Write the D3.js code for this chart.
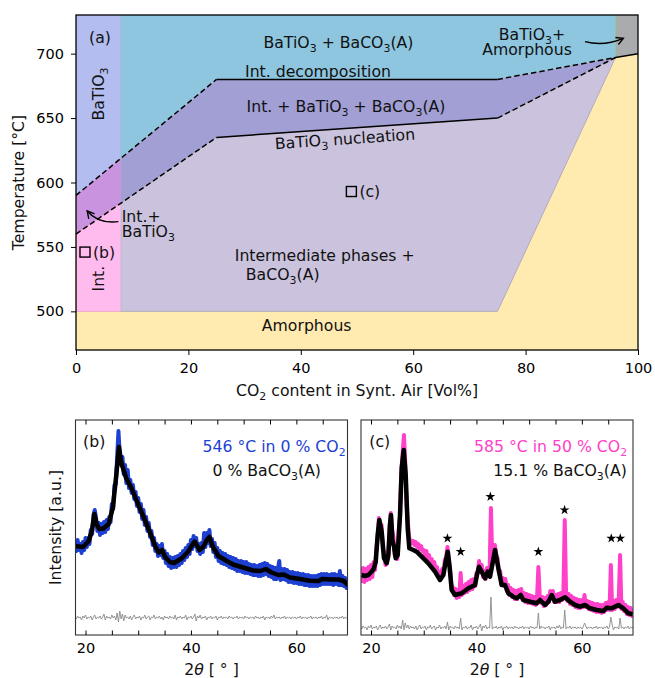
<!DOCTYPE html>
<html lang="en">
<head>
<meta charset="UTF-8">
<title>BaTiO3 phase diagram and XRD scans</title>
<script src="https://cdnjs.cloudflare.com/ajax/libs/d3/7.8.5/d3.min.js"></script>
<style>
    body { margin: 0; background: #fff; }
    svg { font-family: "DejaVu Sans", sans-serif; }
</style>
</head>
<body>
<svg id="chart" width="655" height="678"></svg>
<script>
// ---------- phase diagram (CO2 vol% vs temperature) ----------
const co2Ticks = [0, 20, 40, 60, 80, 100];
const tempTicks = [500, 550, 600, 650, 700];
const upperLine = [[0, 590], [25, 680], [75, 680], [96, 697]];
const lowerLine = [[0, 560], [25, 635], [75, 650], [96, 697]];
const solidSegments = [[[25, 680], [75, 680]], [[25, 635], [75, 650]], [[96, 697], [100, 700]]];
const dashedSegments = [[[0, 590], [25, 680]], [[75, 680], [96, 697]], [[0, 560], [25, 635]], [[75, 650], [96, 697]]];
const amorphousEdge = [[75, 500], [96, 697]];
const columnEdge = 8;
const grayBox = [[96, 730], [100, 730], [100, 700], [96, 697]];
const samples = [{ id: "(b)", co2: 1.6, temp: 546 }, { id: "(c)", co2: 49, temp: 593 }];

// ---------- XRD scans ----------
const scanStart = 18, scanStep = 0.25;
const scanTicks = [20, 25, 30, 35, 40, 45, 50, 55, 60, 65];
const scanLabels = [20, 40, 60];

const obsB = [
    93,84,95,85,91,82,93,85, 97,88,97,91,105,101,120,125, 117,104,112,100,111,102,113,103,
    115,106,118,113,131,126,150,151, 178,204,180,170,178,161,170,152, 165,147,155,142,150,136,143,129,
    137,123,131,116,125,110,118,104, 112,98,104,90,97,84,91,79, 89,80,91,77,84,72,81,69,
    78,67,77,68,78,68,79,70, 81,72,84,75,87,78,90,81, 95,86,99,89,97,84,91,81,
    92,83,102,88,102,92,105,89, 96,83,92,78,87,74,84,72, 82,71,81,70,79,68,78,67,
    77,66,76,64,74,64,74,63, 73,62,73,62,71,61,70,60, 70,60,69,59,70,59,71,60,
    72,61,71,59,69,58,68,56, 67,56,66,74,55,66,56,66, 55,65,53,63,53,63,52,62,
    52,62,51,61,51,61,50,60, 50,60,49,59,49,59,49,59, 49,60,50,61,51,61,51,61,
    51,60,51,61,50,61,51,60, 50,64,50,59,49,57,47,55
];
const resB = [
    18,16,19,17,18,15,19,17, 20,16,18,17,19,15,18,20, 16,18,17,19,16,18,21,15,
    19,17,18,16,20,17,19,15, 22,13,24,16,21,14,20,17, 18,16,19,15,18,20,16,18,
    17,19,15,18,17,20,16,18, 19,15,18,17,20,16,18,17, 19,16,18,15,19,17,18,16,
    19,17,18,16,20,15,18,17, 19,16,18,17,20,15,18,17, 19,16,18,21,14,19,17,20,
    16,18,17,19,15,18,17,19, 16,18,17,19,15,18,17,19, 16,18,17,18,16,19,17,18,
    16,18,17,19,16,18,17,18, 16,19,17,18,16,18,17,18, 16,19,17,18,16,18,17,19,
    15,18,17,18,16,19,17,20, 16,18,17,18,16,18,17,19, 16,18,17,18,16,18,17,18,
    16,18,17,19,16,18,17,18, 16,18,17,19,16,18,17,18, 16,18,17,19,16,18,17,20,
    15,18,17,18,16,18,17,18, 16,18,17,19,16,18,17,18
];
const fitB = [
    [18.0, 89], [19.5, 88], [20.6, 94], [21.2, 104], [21.7, 121], [22.1, 111], [22.6, 106], [23.4, 106.5],
    [24.4, 111], [25.2, 128], [25.8, 158], [26.35, 188], [26.8, 172], [27.7, 157], [28.7, 147], [29.8, 133],
    [31.1, 117], [32.2, 103], [33.2, 89], [33.9, 82.5], [34.5, 85], [35.1, 78], [36.0, 73], [36.8, 72],
    [38.2, 76.5], [39.4, 83], [40.0, 88], [40.7, 93.5], [41.1, 90], [41.6, 85], [42.3, 88], [43.0, 95],
    [43.5, 98], [44.1, 89], [45.2, 79], [46.8, 74], [48.0, 70.5], [49.9, 67.5], [51.8, 64.5], [53.2, 64],
    [54.2, 66], [55.3, 62.5], [56.6, 60], [57.6, 60.5], [58.8, 57.5], [60.7, 56], [62.6, 54.3], [64.2, 54],
    [64.9, 56], [66.5, 55.5], [68.0, 55.5], [69.0, 54], [69.8, 50]
];

const obsC = [
    66,54,67,53,66,55,68,56, 70,58,73,65,86,96,117,108, 110,86,83,70,79,76,107,122,
    106,98,80,84,76,104,118,162, 182,200,172,130,112,96,95,92, 94,90,93,88,91,86,89,84,
    85,79,84,77,80,74,76,70, 73,66,68,61,63,58,66,62, 75,78,88,78,66,50,48,40,
    46,37,45,38,62,40,49,42, 51,43,53,45,55,46,56,49, 62,62,74,64,70,58,64,56,
    67,60,66,127,74,76,90,80, 77,63,64,50,57,49,56,44, 50,40,47,38,45,36,44,36,
    45,38,46,35,42,33,41,32, 40,32,39,31,38,30,38,68, 40,32,38,29,37,30,39,33,
    44,38,44,33,40,33,41,33, 42,35,43,115,42,34,41,31, 39,30,37,28,36,27,35,27,
    35,28,40,28,34,26,33,25, 32,24,31,23,31,23,30,22, 30,23,32,25,33,25,70,25,
    34,26,35,28,36,80,26,33, 24,30,21,28,20,27,19,26
];
const resC = [
    8,6,9,7,8,5,9,7, 10,6,8,7,9,5,8,10, 6,8,7,9,6,8,11,5,
    9,7,8,6,10,7,9,6, 15,5,12,7,10,6,9,7, 8,6,9,5,8,10,6,8,
    7,9,5,8,7,10,6,8, 9,5,8,7,10,6,8,7, 9,6,13,5,9,7,8,6,
    9,7,8,6,17,5,8,7, 9,6,8,7,10,5,8,7, 9,6,8,11,4,9,7,10,
    6,8,7,38,6,8,7,9, 6,8,7,9,5,8,7,9, 6,8,7,8,6,9,7,8,
    6,8,7,9,6,8,7,8, 6,9,7,8,6,8,7,22, 6,9,7,8,6,8,7,9,
    5,8,7,8,6,9,7,10, 6,8,7,25,6,8,7,9, 6,8,7,8,6,8,7,8,
    6,8,12,9,6,8,7,8, 6,8,7,9,6,8,7,8, 6,8,7,9,6,8,18,10,
    5,8,7,8,6,17,7,8, 6,8,7,9,6,8,7,8
];
const fitC = [
    [18.2, 60], [18.8, 59], [19.5, 60], [20.1, 63.3], [20.5, 66], [20.9, 73.3], [21.26, 100], [21.58, 115],
    [22.02, 103.3], [22.46, 76.7], [22.97, 71.7], [23.29, 80], [23.6, 110], [23.79, 120], [24.05, 95], [24.36, 88.3],
    [24.68, 76.7], [25.06, 80], [25.5, 120], [25.82, 166.7], [26.2, 185], [26.58, 160], [26.96, 106.7], [27.27, 86.7],
    [28.03, 85], [28.66, 83.3], [29.61, 78.3], [30.88, 71.7], [32.14, 63.3], [33.09, 55], [33.72, 60], [34.17, 73.3],
    [34.55, 83.3], [34.93, 66.7], [35.3, 45], [35.94, 40], [37.2, 41.7], [38.47, 46.7], [39.73, 50], [40.1, 60],
    [40.49, 68.3], [41.0, 63.3], [41.63, 56.7], [42.14, 63.3], [42.58, 58.3], [43.0, 70], [43.53, 85], [44.16, 66.7],
    [44.79, 50], [45.42, 50], [46.06, 41.7], [47.0, 38.3], [47.64, 36.7], [48.4, 40], [48.9, 35], [50.17, 33.3],
    [51.43, 31.7], [52.07, 35], [53.01, 30], [53.65, 33.3], [54.28, 40], [54.91, 33.3], [55.86, 35], [56.81, 37.7],
    [57.76, 33.3], [58.71, 30], [59.66, 28.3], [60.6, 30], [61.55, 26.7], [62.82, 25], [64.08, 24], [64.72, 27.3],
    [65.67, 26.7], [66.93, 30], [67.88, 26.7], [68.83, 21.7], [69.65, 20.7]
];
const starPeaks = [[34.5, 96.7], [37.0, 83.3], [42.64, 138.3], [51.75, 83.3], [56.72, 125], [65.58, 96.7], [67.28, 96.7]];

// ---------- styling ----------
const fsTick = 14.5, fsText = 15.7;
const col = {
    amorphous: "#ffeab0", batio3: "#b3bdef", topMain: "#8ec5df", intBat: "#c993e0",
    midMain: "#a19fd4", intPink: "#ffbbee", lowMain: "#cbc3dd", gray: "#a9abae",
    blue: "#1d3fd2", pink: "#ff40c8"
};

const svg = d3.select("#chart");
const defs = svg.append("defs");

// subscripts written as _3 in label strings
function rich(sel, str, fs) {
    const parts = str.split(/_(\d)/);
    let shifted = false;
    parts.forEach((p, i) => {
        if (p === "") return;
        const t = sel.append("tspan").text(p);
        if (i % 2 === 1) { t.attr("font-size", fs * 0.7).attr("dy", fs * 0.26); shifted = true; }
        else if (shifted) { t.attr("dy", -fs * 0.26); shifted = false; }
    });
    return sel;
}
function label(g, px, py, str, opts = {}) {
    const fs = opts.fs || fsText;
    const t = g.append("text")
        .attr("x", px).attr("y", py).attr("dy", "0.36em")
        .attr("font-size", fs)
        .attr("text-anchor", opts.anchor || "middle")
        .attr("fill", opts.color || "#111");
    if (opts.rotate) t.attr("transform", `rotate(${opts.rotate},${px},${py})`);
    return rich(t, str, fs);
}

// ===== top panel =====
const x = d3.scaleLinear().domain([0, 100]).range([76, 638]);
const y = d3.scaleLinear().domain([470, 730]).range([350, 15]);
const pline = d3.line().x(d => x(d[0])).y(d => y(d[1]));
const poly = pts => pline(pts) + "Z";

defs.append("clipPath").attr("id", "colLeft").append("rect")
    .attr("x", x(0)).attr("y", y(730)).attr("width", x(columnEdge) - x(0)).attr("height", y(470) - y(730));
defs.append("clipPath").attr("id", "colMain").append("rect")
    .attr("x", x(columnEdge)).attr("y", y(730)).attr("width", x(100) - x(columnEdge)).attr("height", y(470) - y(730));

const topG = svg.append("g");
topG.append("rect").attr("x", x(0)).attr("y", y(730))
    .attr("width", x(100) - x(0)).attr("height", y(470) - y(730)).attr("fill", col.amorphous);

const upperBand = [[0, 730]].concat(upperLine, [[96, 730]]);
const midBand = upperLine.concat(lowerLine.slice().reverse());
const lowBand = lowerLine.concat([amorphousEdge[0], [0, 500]]);

const mainG = topG.append("g").attr("clip-path", "url(#colMain)");
mainG.append("path").attr("d", poly(upperBand)).attr("fill", col.topMain);
mainG.append("path").attr("d", poly(midBand)).attr("fill", col.midMain);
mainG.append("path").attr("d", poly(lowBand)).attr("fill", col.lowMain)
    .attr("stroke", "#b3aabd").attr("stroke-width", 1);
const leftG = topG.append("g").attr("clip-path", "url(#colLeft)");
leftG.append("path").attr("d", poly(upperBand)).attr("fill", col.batio3);
leftG.append("path").attr("d", poly(midBand)).attr("fill", col.intBat);
leftG.append("path").attr("d", poly(lowBand)).attr("fill", col.intPink)
    .attr("stroke", "#f0a4c8").attr("stroke-width", 1);
topG.append("line").attr("x1", x(columnEdge)).attr("x2", x(columnEdge))
    .attr("y1", y(730)).attr("y2", y(500)).attr("stroke", "#9fb0cc").attr("stroke-width", 0.8).attr("opacity", 0.6);

topG.append("path").attr("d", poly(grayBox)).attr("fill", col.gray);
topG.append("line").attr("x1", x(96)).attr("x2", x(96)).attr("y1", y(730)).attr("y2", y(697))
    .attr("stroke", "#8fcaa0").attr("stroke-width", 1);

solidSegments.forEach(s => topG.append("path").attr("d", pline(s))
    .attr("fill", "none").attr("stroke", "#000").attr("stroke-width", 1.5));
dashedSegments.forEach(s => topG.append("path").attr("d", pline(s))
    .attr("fill", "none").attr("stroke", "#000").attr("stroke-width", 1.5).attr("stroke-dasharray", "5.5,3"));

// sample markers
samples.forEach(s => {
    topG.append("rect").attr("x", x(s.co2) - 5).attr("y", y(s.temp) - 5)
        .attr("width", 10).attr("height", 10).attr("fill", "none").attr("stroke", "#000").attr("stroke-width", 1.4);
    label(topG, x(s.co2) + 8, y(s.temp), s.id, { anchor: "start" });
});

// phase labels
label(topG, x(4.27), y(712.9), "(a)");
label(topG, x(3.97), y(668.7), "BaTiO_3", { rotate: -90 });
label(topG, x(46.7), y(708.8), "BaTiO_3 + BaCO_3(A)");
label(topG, x(43.06), y(686.3), "Int. decomposition");
label(topG, x(48.04), y(659.1), "Int. + BaTiO_3 + BaCO_3(A)");
label(topG, x(47.86), y(634), "BaTiO_3 nucleation", { rotate: -4 });
label(topG, x(3.97), y(525.4), "Int.", { rotate: -90 });
label(topG, x(8.13), y(573.7), "Int.+", { anchor: "start" });
label(topG, x(8.13), y(562.1), "BaTiO_3", { anchor: "start" });
label(topG, x(44.25), y(543.3), "Intermediate phases +");
label(topG, x(36.78), y(528.5), "BaCO_3(A)");
label(topG, x(41.05), y(489.1), "Amorphous");
label(topG, x(81.14), y(715.3), "BaTiO_3+");
label(topG, x(80.25), y(703.4), "Amorphous");

// curved arrows
defs.append("marker").attr("id", "head").attr("viewBox", "-9 -6 11 12")
    .attr("refX", 0).attr("refY", 0).attr("markerWidth", 11).attr("markerHeight", 12)
    .attr("markerUnits", "userSpaceOnUse").attr("orient", "auto")
    .append("path").attr("d", "M-7,-3.8L0,0L-7,3.8").attr("fill", "none")
    .attr("stroke", "#000").attr("stroke-width", 1.4);
const arrows = [
    [[7.53, 569.6], [3.91, 567.8], [2.0, 577.9]],
    [[90.57, 709.3], [93.92, 705.5], [97.39, 711.9]]
];
arrows.forEach(a => {
    const p = d3.path();
    p.moveTo(x(a[0][0]), y(a[0][1]));
    p.quadraticCurveTo(x(a[1][0]), y(a[1][1]), x(a[2][0]), y(a[2][1]));
    topG.append("path").attr("d", p.toString()).attr("fill", "none")
        .attr("stroke", "#000").attr("stroke-width", 1.4).attr("marker-end", "url(#head)");
});

// frame + axes
topG.append("rect").attr("x", x(0)).attr("y", y(730)).attr("width", x(100) - x(0))
    .attr("height", y(470) - y(730)).attr("fill", "none").attr("stroke", "#000").attr("stroke-width", 1.3);
svg.append("g").attr("transform", `translate(0,${y(470)})`)
    .call(d3.axisBottom(x).tickValues(co2Ticks).tickSize(5).tickPadding(8))
    .call(g => g.select(".domain").remove())
    .attr("font-family", "DejaVu Sans").attr("font-size", fsTick);
svg.append("g").attr("transform", `translate(${x(0)},0)`)
    .call(d3.axisLeft(y).tickValues(tempTicks).tickSize(5).tickPadding(7))
    .call(g => g.select(".domain").remove())
    .attr("font-family", "DejaVu Sans").attr("font-size", fsTick);
label(svg, 357, 390, "CO_2 content in Synt. Air [Vol%]");
label(svg, 18.5, 182.5, "Temperature [°C]", { rotate: -90 });

// ===== bottom panels =====
const yI = d3.scaleLinear().domain([0, 215]).range([635, 420]);

function drawScan(cfg) {
    const xs = d3.scaleLinear().domain([18.1, 69.7]).range(cfg.range);
    const g = svg.append("g");
    defs.append("clipPath").attr("id", cfg.id).append("rect")
        .attr("x", cfg.range[0]).attr("y", 420).attr("width", cfg.range[1] - cfg.range[0]).attr("height", 215);
    const plot = g.append("g").attr("clip-path", `url(#${cfg.id})`);
    const line = d3.line().x(d => xs(d[0])).y(d => yI(d[1]));
    const onGrid = arr => arr.map((v, i) => [scanStart + i * scanStep, v]);

    plot.append("path").attr("d", line(onGrid(cfg.obs))).attr("fill", "none")
        .attr("stroke", cfg.color).attr("stroke-width", 4).attr("stroke-linejoin", "round");
    plot.append("path").attr("d", line(onGrid(cfg.res))).attr("fill", "none")
        .attr("stroke", "#8a8a8a").attr("stroke-width", 0.9);
    plot.append("path").attr("d", line(cfg.fit)).attr("fill", "none")
        .attr("stroke", "#000").attr("stroke-width", 4.5).attr("stroke-linejoin", "round");
    if (cfg.stars) {
        plot.selectAll(".star").data(cfg.stars).join("path")
            .attr("transform", d => `translate(${xs(d[0])},${yI(d[1])})`)
            .attr("d", d3.symbol(d3.symbolStar, 30)).attr("fill", "#000");
    }

    g.append("rect").attr("x", cfg.range[0]).attr("y", 420).attr("width", cfg.range[1] - cfg.range[0])
        .attr("height", 215).attr("fill", "none").attr("stroke", "#333").attr("stroke-width", 1.1);
    g.append("g").attr("transform", "translate(0,635)")
        .call(d3.axisBottom(xs).tickValues(scanTicks).tickSizeInner(-4.5).tickSizeOuter(0).tickPadding(8)
            .tickFormat(d => scanLabels.includes(d) ? d : ""))
        .call(a => a.select(".domain").remove())
        .attr("font-family", "DejaVu Sans").attr("font-size", fsTick);
    g.append("g").attr("transform", "translate(0,420)")
        .call(d3.axisTop(xs).tickValues(scanTicks).tickSizeInner(-4.5).tickSizeOuter(0).tickFormat(""))
        .call(a => a.select(".domain").remove());

    label(g, xs(21.65), yI(193.3), cfg.tag);
    label(g, xs(cfg.line1[0]), yI(188.3), cfg.line1[1], { color: cfg.color });
    label(g, xs(cfg.line2[0]), yI(165), cfg.line2[1], { color: "#111" });

    const cx = (cfg.range[0] + cfg.range[1]) / 2;
    const t = g.append("text").attr("x", cx).attr("y", 669).attr("dy", "0.36em")
        .attr("text-anchor", "middle").attr("font-size", fsText).attr("fill", "#111");
    t.append("tspan").text("2");
    t.append("tspan").attr("font-style", "italic").text("θ");
    t.append("tspan").text(" [ ° ]");
}

drawScan({
    id: "clipB", range: [75.5, 347.5], obs: obsB, res: resB, fit: fitB, color: col.blue,
    tag: "(b)", line1: [55.77, "546 °C in 0 % CO_2"], line2: [54.38, "0 % BaCO_3(A)"]
});
drawScan({
    id: "clipC", range: [361, 633], obs: obsC, res: resC, fit: fitC, color: col.pink, stars: starPeaks,
    tag: "(c)", line1: [54.06, "585 °C in 50 % CO_2"], line2: [55.86, "15.1 % BaCO_3(A)"]
});
label(svg, 55, 527.5, "Intensity [a.u.]", { rotate: -90 });
</script>
</body>
</html>
